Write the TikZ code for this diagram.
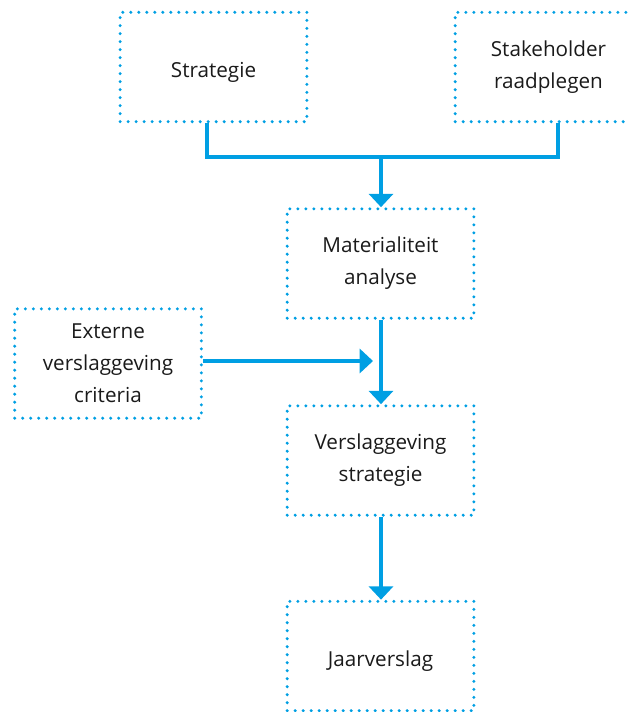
\documentclass[tikz,border=0pt]{standalone}
\usepackage{fontspec}
\setmainfont{Open Sans}
\usetikzlibrary{arrows.meta}
\definecolor{rijksblauw}{RGB}{0,159,227}
\definecolor{tekst}{RGB}{26,26,26}

\begin{document}
\begin{tikzpicture}[x=0.75pt,y=-0.75pt,
    every node/.style={font=\fontsize{15.5pt}{24pt}\selectfont, text=tekst, align=center},
    box/.style={draw=rijksblauw, line width=2.5pt, dash pattern=on 0pt off 6pt, line cap=round,
                minimum width=140pt, minimum height=82pt, inner sep=0pt,
                execute at begin node={\rule{0pt}{20pt}}},
    link/.style={draw=rijksblauw, line width=3pt},
    arrow/.style={link, -{Triangle[width=18pt,length=10pt]}}]
  \useasboundingbox (0,0) rectangle (627,712);

  % Blokken
  \node[box] (strat) at (213.5,67) {Strategie};
  \node[box] (stake) at (548.5,67) {Stakeholder\\raadplegen};
  \node[box] (mat) at (380.5,263.5) {Materialiteit\\analyse};
  \node[box] (ext) at (108,363.5) {Externe\\verslaggeving\\criteria};
  \node[box] (vs) at (380.5,460.5) {Verslaggeving\\strategie};
  \node[box] (jaar) at (380.5,656) {Jaarverslag};

  % Knikpunten
  \coordinate (sknik) at (207,157);
  \coordinate (kknik) at (558,157);
  \coordinate (samen) at (381,157);
  \coordinate (extin) at (373,361);

  % Verbindingen
  \draw[link] (strat.south -| sknik) -- (sknik) -- (kknik) -- (stake.south -| kknik);
  \draw[arrow] (samen) -- (mat.north -| samen);
  \draw[arrow] (ext.east |- extin) -- (extin);
  \draw[arrow] (mat.south -| samen) -- (vs.north -| samen);
  \draw[arrow] (vs.south -| samen) -- (jaar.north -| samen);
\end{tikzpicture}
\end{document}
